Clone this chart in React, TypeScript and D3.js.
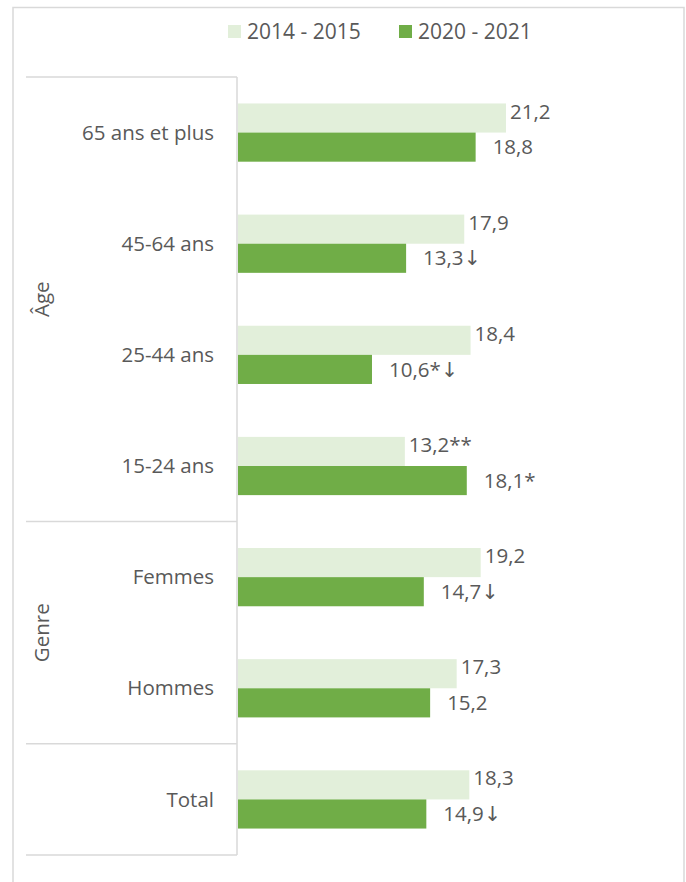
import React from "react";
import * as d3 from "d3";

const categories = ["65 ans et plus", "45-64 ans", "25-44 ans", "15-24 ans", "Femmes", "Hommes", "Total"];
const values2014 = [21.2, 17.9, 18.4, 13.2, 19.2, 17.3, 18.3];
const values2020 = [18.8, 13.3, 10.6, 18.1, 14.7, 15.2, 14.9];
const labels2014 = ["21,2", "17,9", "18,4", "13,2**", "19,2", "17,3", "18,3"];
const labels2020 = ["18,8", "13,3↓", "10,6*↓", "18,1*", "14,7↓", "15,2", "14,9↓"];
const groups = [
  { name: "Âge", start: 0, end: 3 },
  { name: "Genre", start: 4, end: 5 },
  { name: "", start: 6, end: 6 },
];
const seriesNames = ["2014 - 2015", "2020 - 2021"];
const colors = ["#E2EFDA", "#70AD47"];

const W = 686;
const H = 882;
const FONT = "'Open Sans', 'Noto Sans', sans-serif";
const TEXT = "#595959";
const GRID = "#D9D9D9";
const FS = 20.5;

function Label({ x, y, text, anchor }: { x: number; y: number; text: string; anchor?: string }) {
  const parts = text.split("↓");
  return (
    <text x={x} y={y} dy="0.35em" fontSize={FS} fill={TEXT} textAnchor={anchor}>
      {parts[0]}
      {parts.length > 1 && (
        <tspan fontFamily="'DejaVu Sans', sans-serif" fontSize={FS}>↓</tspan>
      )}
    </text>
  );
}

export default function App() {
  const axisX = 238;
  const x = d3.scaleLinear().domain([0, 25]).range([axisX, axisX + 316]);
  const y = d3.scaleBand<string>().domain(categories).range([77, 855]).padding(0);
  const bh = y.bandwidth() * 0.262;

  return (
    <div style={{ position: "absolute", left: 0, top: 0 }}>
      <svg width={W} height={H} style={{ display: "block", fontFamily: FONT }}>
        <rect x={0} y={0} width={W} height={H} fill="#fff" />
        <path d={`M13,${H} V7.5 H684 V${H}`} fill="none" stroke={GRID} strokeWidth={1.5} />
        {seriesNames.map((s, i) => {
          const lx = i === 0 ? 228 : 399;
          return (
            <g key={s}>
              <rect x={lx} y={25} width={13} height={13} fill={colors[i]} />
              <text x={lx + 19} y={32} dy="0.35em" fontSize={21} fill={TEXT}>{s}</text>
            </g>
          );
        })}
        {categories.map((c, i) => {
          const cy = (y(c) as number) + y.bandwidth() / 2;
          return (
            <g key={c}>
              <rect x={x(0)} y={cy - bh} width={x(values2014[i]) - x(0)} height={bh} fill={colors[0]} />
              <rect x={x(0)} y={cy} width={x(values2020[i]) - x(0)} height={bh} fill={colors[1]} />
              <Label x={x(values2014[i]) + 4} y={cy - bh + 8} text={labels2014[i]} />
              <Label x={x(values2020[i]) + 17} y={cy + bh / 2} text={labels2020[i]} />
              <text x={214} y={cy} dy="0.35em" textAnchor="end" fontSize={FS} fill={TEXT}>{c}</text>
            </g>
          );
        })}
        <line x1={axisX - 1} x2={axisX - 1} y1={77} y2={855} stroke={GRID} strokeWidth={1.5} />
        {groups.map((g, gi) => {
          const top = y(categories[g.start]) as number;
          const bot = (y(categories[g.end]) as number) + y.bandwidth();
          return (
            <g key={gi}>
              {gi === 0 && <line x1={26} x2={axisX - 1} y1={top} y2={top} stroke={GRID} strokeWidth={1.5} />}
              <line x1={26} x2={axisX - 1} y1={bot} y2={bot} stroke={GRID} strokeWidth={1.5} />
              {g.name && (
                <text transform={`translate(42,${(top + bot) / 2}) rotate(-90)`} dy="0.35em" textAnchor="middle" fontSize={FS} fill={TEXT}>{g.name}</text>
              )}
            </g>
          );
        })}
      </svg>
    </div>
  );
}
